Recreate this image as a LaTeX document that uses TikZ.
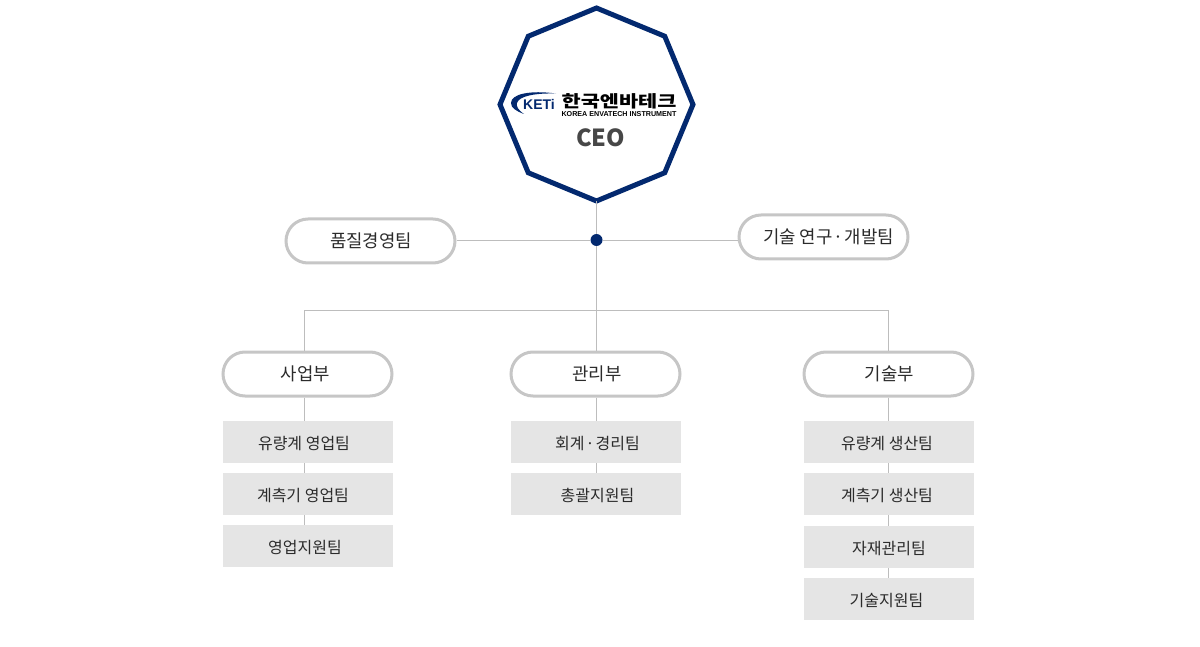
\documentclass[tikz,border=0pt]{standalone}
\usepackage{fontspec}
\setmainfont{Noto Sans CJK KR}
\newfontfamily\latinlogo{Liberation Sans}
\usetikzlibrary{shapes.geometric,calc}
\definecolor{navy}{HTML}{03296F}
\definecolor{pillgray}{HTML}{C6C6C6}
\definecolor{linegray}{HTML}{BDBDBD}
\definecolor{teamgray}{HTML}{E5E5E5}
\definecolor{ink}{HTML}{2B2B2B}
\newcommand\lsh[2]{#2\kern#1pt}
\newcommand\rsh[2]{\kern#1pt #2}
\tikzset{
  pill/.style={draw=pillgray,line width=3pt,fill=white,rounded corners=22pt,minimum width=169pt,minimum height=44pt,inner sep=0pt,text=ink,font=\fontsize{17.8}{20}\selectfont},
  team/.style={fill=teamgray,minimum width=170pt,minimum height=42pt,inner sep=0pt,text=ink,text height=17pt,text depth=2pt,font=\fontsize{16}{18}\selectfont},
  conn/.style={draw=linegray,line width=0.8pt},
}
\begin{document}
\begin{tikzpicture}[x=1pt,y=-1pt]
\useasboundingbox (0,0) rectangle (1200,647);
\node[regular polygon,regular polygon sides=8,shape border rotate=22.5,draw=navy,line width=5pt,fill=white,minimum size=193pt,inner sep=0pt,outer sep=0pt] (ceo) at (596.5,104.5) {};
\node[circle,fill=navy,minimum size=12pt,inner sep=0pt] (hub) at (596.5,240) {};
\node[pill] (quality) at (370.5,241) {\rsh{1}{품질경영팀}};
\node[pill] (rnd) at (823.5,237) {\rsh{10}{기술 연구{\kern1pt·\kern1pt}개발팀}};
\coordinate (bus) at (596.5,310);
\node[pill] (sales) at (307.5,374) {\lsh{4}{사업부}};
\node[pill] (admin) at (595.5,374) {\rsh{3}{관리부}};
\node[pill] (tech) at (888.5,374) {\rsh{2}{기술부}};
\node[team] (s1) at (308,442) {\lsh{8}{유량계 영업팀}};
\node[team] (s2) at (308,494) {\lsh{10}{계측기 영업팀}};
\node[team] (s3) at (308,546) {\lsh{6}{영업지원팀}};
\node[team] (a1) at (596,442) {\rsh{3}{회계{\kern1pt·\kern1pt}경리팀}};
\node[team] (a2) at (596,494) {\rsh{3}{총괄지원팀}};
\node[team] (t1) at (889,442) {\lsh{4}{유량계 생산팀}};
\node[team] (t2) at (889,494) {\lsh{4}{계측기 생산팀}};
\node[team] (t3) at (889,547) {\lsh{0}{자재관리팀}};
\node[team] (t4) at (889,599) {\lsh{5}{기술지원팀}};
\coordinate (busL) at (304.5,310);
\coordinate (busR) at (888.5,310);
% connectors
\draw[conn] (ceo.south) -- (hub);
\draw[conn] (hub) -- (bus);
\draw[conn] (quality.east |- hub) -- (hub);
\draw[conn] (hub) -- (rnd.west |- hub);
\draw[conn] (busL) -- (busR);
\draw[conn] (busL) -- (busL |- sales.north);
\draw[conn] (bus) -- (bus |- admin.north);
\draw[conn] (busR) -- (busR |- tech.north);
\draw[conn] (busL |- sales.south) -- (busL |- s1.north);
\draw[conn] (busL |- s1.south) -- (busL |- s2.north);
\draw[conn] (busL |- s2.south) -- (busL |- s3.north);
\draw[conn] (bus |- admin.south) -- (bus |- a1.north);
\draw[conn] (bus |- a1.south) -- (bus |- a2.north);
\draw[conn] (busR |- tech.south) -- (busR |- t1.north);
\draw[conn] (busR |- t1.south) -- (busR |- t2.north);
\draw[conn] (busR |- t2.south) -- (busR |- t3.north);
\draw[conn] (busR |- t3.south) -- (busR |- t4.north);
% CEO logo
\fill[navy] (556,93.5) .. controls (530,90) and (511,94) .. (511,103) .. controls (511,108) and (516,111) .. (524,114) .. controls (518,110) and (516,106) .. (517,103) .. controls (519,96) and (535,93) .. (556,93.5) -- cycle;
\node[font=\latinlogo\bfseries\fontsize{14}{14}\selectfont,text=navy,inner sep=0pt] (keti) at (539,104) {KETi};
\node[font=\bfseries\fontsize{16.5}{17}\selectfont,text=black,inner sep=0pt] (kname) at (619,101.5) {\scalebox{1.26}[1]{한국엔바테크}};
\node[font=\latinlogo\bfseries\fontsize{7.15}{8}\selectfont,text=black,inner sep=0pt] (ename) at (619,114) {KOREA ENVATECH INSTRUMENT};
\node[font=\bfseries\fontsize{23.5}{26}\selectfont,text=black!72,inner sep=0pt] (ceolabel) at (600.5,137.5) {CEO};
\end{tikzpicture}
\end{document}
